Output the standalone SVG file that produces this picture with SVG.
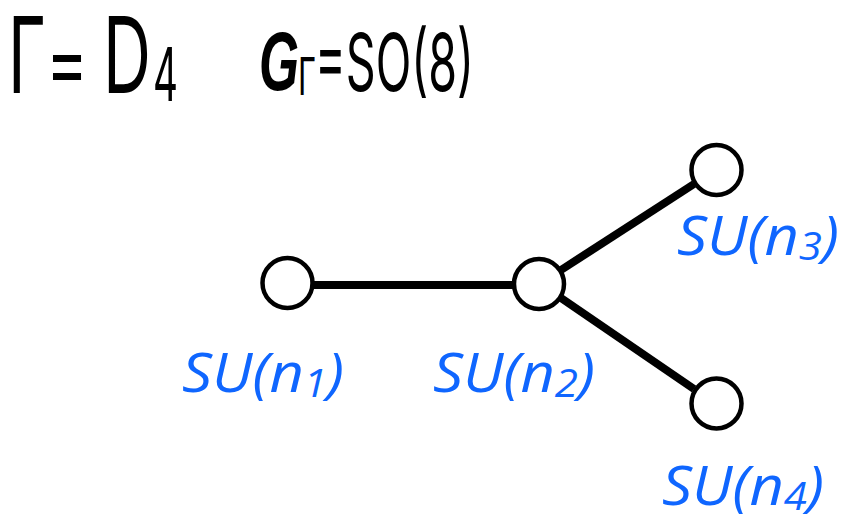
<svg xmlns="http://www.w3.org/2000/svg" width="849" height="519" viewBox="0 0 849 519">
<style>
.node{fill:#fff;stroke:#000;stroke-width:4.5}
.edge{stroke:#000;stroke-width:8;stroke-linecap:butt}
.lbl{font-family:"Open Sans","Noto Sans",sans-serif;font-style:italic;fill:#0f66ff;font-size:54px}
.sub{font-size:38px}
.ttl{font-family:Inter,"Liberation Sans",sans-serif;fill:#000}
</style>
<rect width="849" height="519" fill="#fff"/>
<g id="title">
<text class="ttl" x="8" y="93" font-size="106" textLength="38" lengthAdjust="spacingAndGlyphs">Γ</text>
<text class="ttl" x="46" y="92" font-size="87" textLength="42" lengthAdjust="spacingAndGlyphs">=</text>
<text class="ttl" x="103" y="93" font-size="106" textLength="48" lengthAdjust="spacingAndGlyphs">D</text>
<text class="ttl" x="153" y="101" font-size="74" textLength="25" lengthAdjust="spacingAndGlyphs">4</text>
<text x="259" y="90" font-family="Liberation Sans,Arial,sans-serif" font-size="84" font-weight="bold" font-style="italic" textLength="40" lengthAdjust="spacingAndGlyphs">G</text>
<text class="ttl" x="298" y="95" font-size="52" textLength="18" lengthAdjust="spacingAndGlyphs">Γ</text>
<text class="ttl" x="315" y="91" font-size="80" textLength="159" lengthAdjust="spacingAndGlyphs">=SO(8)</text>
</g>
<g id="edges">
<line class="edge" x1="313" y1="285" x2="513" y2="285"/>
<line class="edge" x1="561" y1="270" x2="694" y2="184"/>
<line class="edge" x1="561" y1="298" x2="694" y2="389"/>
</g>
<g id="n1">
<circle class="node" cx="287.5" cy="283" r="25"/>
<text class="lbl" x="182" y="392" textLength="162" lengthAdjust="spacingAndGlyphs">SU(n<tspan class="sub" dy="5">1</tspan><tspan dy="-5">)</tspan></text>
</g>
<g id="n2">
<circle class="node" cx="539" cy="284" r="25"/>
<text class="lbl" x="433" y="392" textLength="162" lengthAdjust="spacingAndGlyphs">SU(n<tspan class="sub" dy="5">2</tspan><tspan dy="-5">)</tspan></text>
</g>
<g id="n3">
<circle class="node" cx="716.5" cy="170" r="25"/>
<text class="lbl" x="677" y="255" textLength="162" lengthAdjust="spacingAndGlyphs">SU(n<tspan class="sub" dy="5">3</tspan><tspan dy="-5">)</tspan></text>
</g>
<g id="n4">
<circle class="node" cx="716.5" cy="403.5" r="25"/>
<text class="lbl" x="662" y="505" textLength="162" lengthAdjust="spacingAndGlyphs">SU(n<tspan class="sub" dy="5">4</tspan><tspan dy="-5">)</tspan></text>
</g>
</svg>
